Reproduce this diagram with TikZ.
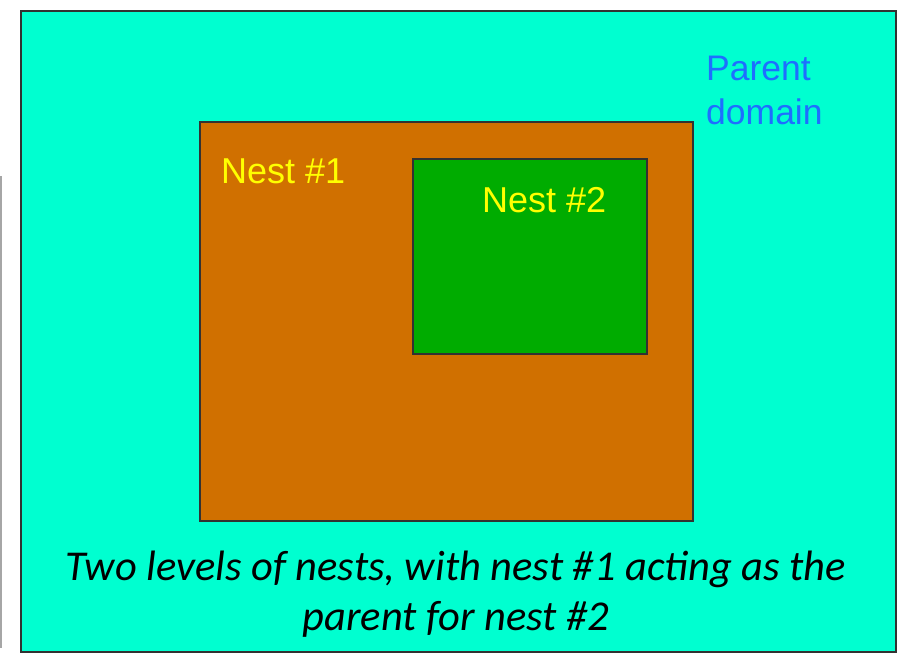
\documentclass[tikz,border=0pt]{standalone}
\usepackage{fontspec}
\setmainfont{Liberation Sans}
\newfontfamily\captionfont{Carlito}
\definecolor{domaincyan}{RGB}{0,255,208}
\definecolor{nestorange}{RGB}{208,112,0}
\definecolor{nestgreen}{RGB}{0,172,0}
\definecolor{labelyellow}{RGB}{255,255,0}
\definecolor{labelblue}{RGB}{30,110,255}
\definecolor{edgegray}{RGB}{50,50,50}
\tikzset{
  domainbox/.style={draw=edgegray, line width=1.5pt},
  nestlabel/.style={anchor=base west, inner sep=0pt, text=labelyellow, font=\fontsize{36}{36}\selectfont},
  parentlabel/.style={anchor=base west, inner sep=0pt, text=labelblue, font=\fontsize{35.5}{35.5}\selectfont},
  captiontext/.style={anchor=base, inner sep=0pt, font=\captionfont\itshape\fontsize{42.5}{42.5}\selectfont},
}
\begin{document}
\begin{tikzpicture}[x=1pt,y=-1pt]
  \useasboundingbox (0,0) rectangle (897,657);
  % thin gray rule at the left edge
  \draw[gray!70, line width=1.5pt] (1,176) -- (1,648);
  % parent domain
  \filldraw[domainbox, fill=domaincyan] (21,11) rectangle (896,652);
  % nest #1
  \filldraw[domainbox, fill=nestorange] (200,122) rectangle (693,521);
  % nest #2 inside nest #1
  \filldraw[domainbox, fill=nestgreen] (413,159) rectangle (647,354);
  % labels
  \node[nestlabel] (n1) at (221,183) {Nest \#1};
  \node[nestlabel] (n2) at (482,212) {Nest \#2};
  \node[parentlabel] (p1) at (706,80) {Parent};
  \node[parentlabel] (p2) at (706,124) {domain};
  \node[captiontext] (c1) at (456,580) {Two levels of nests, with nest \#1 acting as the};
  \node[captiontext] (c2) at (456,630) {parent for nest \#2};
\end{tikzpicture}
\end{document}
